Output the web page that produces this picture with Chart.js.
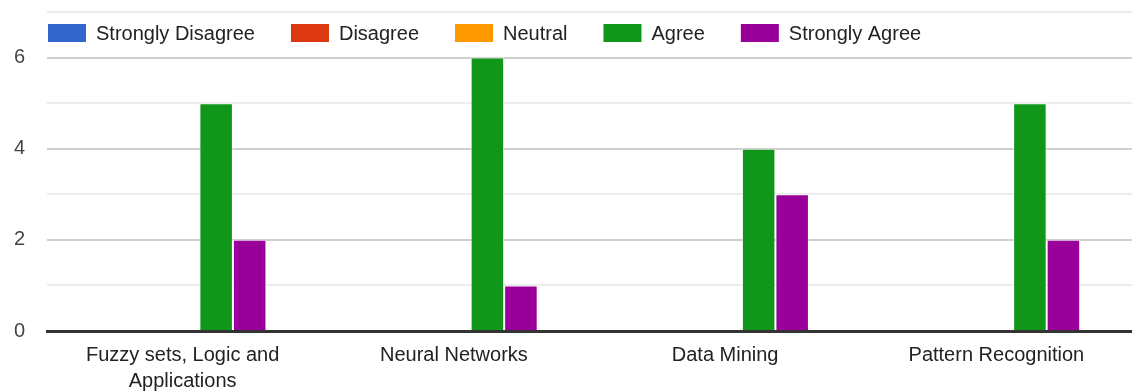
<!DOCTYPE html>
<html>
<head>
<meta charset="utf-8">
<script src="https://cdn.jsdelivr.net/npm/chart.js@4/dist/chart.umd.min.js"></script>
<style>
  html, body { margin: 0; padding: 0; background: #fff; }
  #wrap { width: 1132px; height: 392px; position: relative; }
</style>
</head>
<body>
<div id="wrap"><canvas id="chart"></canvas></div>
<script>
// Course topics (x axis)
const categories = [
  ['Fuzzy sets, Logic and', 'Applications'],
  'Neural Networks',
  'Data Mining',
  'Pattern Recognition'
];

// Response counts per answer
const stronglyDisagree = [0, 0, 0, 0];
const disagree         = [0, 0, 0, 0];
const neutral          = [0, 0, 0, 0];
const agree            = [5, 6, 4, 5];
const stronglyAgree    = [2, 1, 3, 2];

const yMax = 7;
const yLabelStep = 2;

const FONT = '"Liberation Sans", Arial, Helvetica, sans-serif';

function series(label, data, color) {
  return {
    label,
    data,
    backgroundColor: color,
    borderColor: 'rgba(255,255,255,0.55)',
    borderWidth: ctx => (ctx.raw ? 1 : 0),
    categoryPercentage: 0.618,
    barPercentage: 1.0
  };
}

// Single-row legend drawn inside the plot area, along its top edge
const insideLegend = {
  id: 'insideLegend',
  afterDraw(chart, args, opts) {
    const { ctx, chartArea } = chart;
    let x = chartArea.left + 1;
    const y = chartArea.top + 12;
    ctx.save();
    ctx.font = `${opts.fontSize}px ${FONT}`;
    ctx.textBaseline = 'middle';
    ctx.textAlign = 'left';
    chart.data.datasets.forEach(ds => {
      ctx.fillStyle = ds.backgroundColor;
      ctx.fillRect(x, y, opts.boxWidth, opts.boxHeight);
      const tx = x + opts.boxWidth + opts.fontSize / 2;
      ctx.fillStyle = opts.color;
      ctx.fillText(ds.label, tx, y + opts.boxHeight / 2 + 1);
      x = tx + ctx.measureText(ds.label).width + opts.gap;
    });
    ctx.restore();
  }
};

new Chart(document.getElementById('chart'), {
  type: 'bar',
  data: {
    labels: categories,
    datasets: [
      series('Strongly Disagree', stronglyDisagree, '#3366cc'),
      series('Disagree', disagree, '#dc3912'),
      series('Neutral', neutral, '#ff9900'),
      series('Agree', agree, '#109618'),
      series('Strongly Agree', stronglyAgree, '#990099')
    ]
  },
  plugins: [insideLegend],
  options: {
    responsive: true,
    maintainAspectRatio: false,
    animation: false,
    layout: { padding: { top: 12, left: 0, right: 0, bottom: 0 } },
    plugins: {
      tooltip: { enabled: false },
      legend: { display: false },
      insideLegend: {
        boxWidth: 38,
        boxHeight: 18,
        fontSize: 20,
        gap: 36,
        color: '#222'
      }
    },
    scales: {
      x: {
        grid: { display: false },
        border: { display: true, color: '#333', width: 3 },
        ticks: {
          color: '#222',
          padding: 3,
          font: { family: FONT, size: 20, lineHeight: 1.3 },
          maxRotation: 0,
          autoSkip: false
        },
        afterFit: s => { s.height = 61; }
      },
      y: {
        min: 0,
        max: yMax,
        border: { display: false },
        grid: {
          drawTicks: false,
          lineWidth: 2,
          color: ctx => {
            const v = ctx.tick ? ctx.tick.value : 0;
            if (v === 0) return '#333';
            return v % yLabelStep === 0 ? '#cfcfcf' : '#ececec';
          }
        },
        ticks: {
          stepSize: 1,
          padding: 22,
          color: '#444',
          font: { family: FONT, size: 20 },
          callback: v => (v % yLabelStep === 0 && v !== yMax ? v : '')
        },
        afterFit: s => { s.width = 47; s.paddingTop = 0; }
      }
    }
  }
});
</script>
</body>
</html>
